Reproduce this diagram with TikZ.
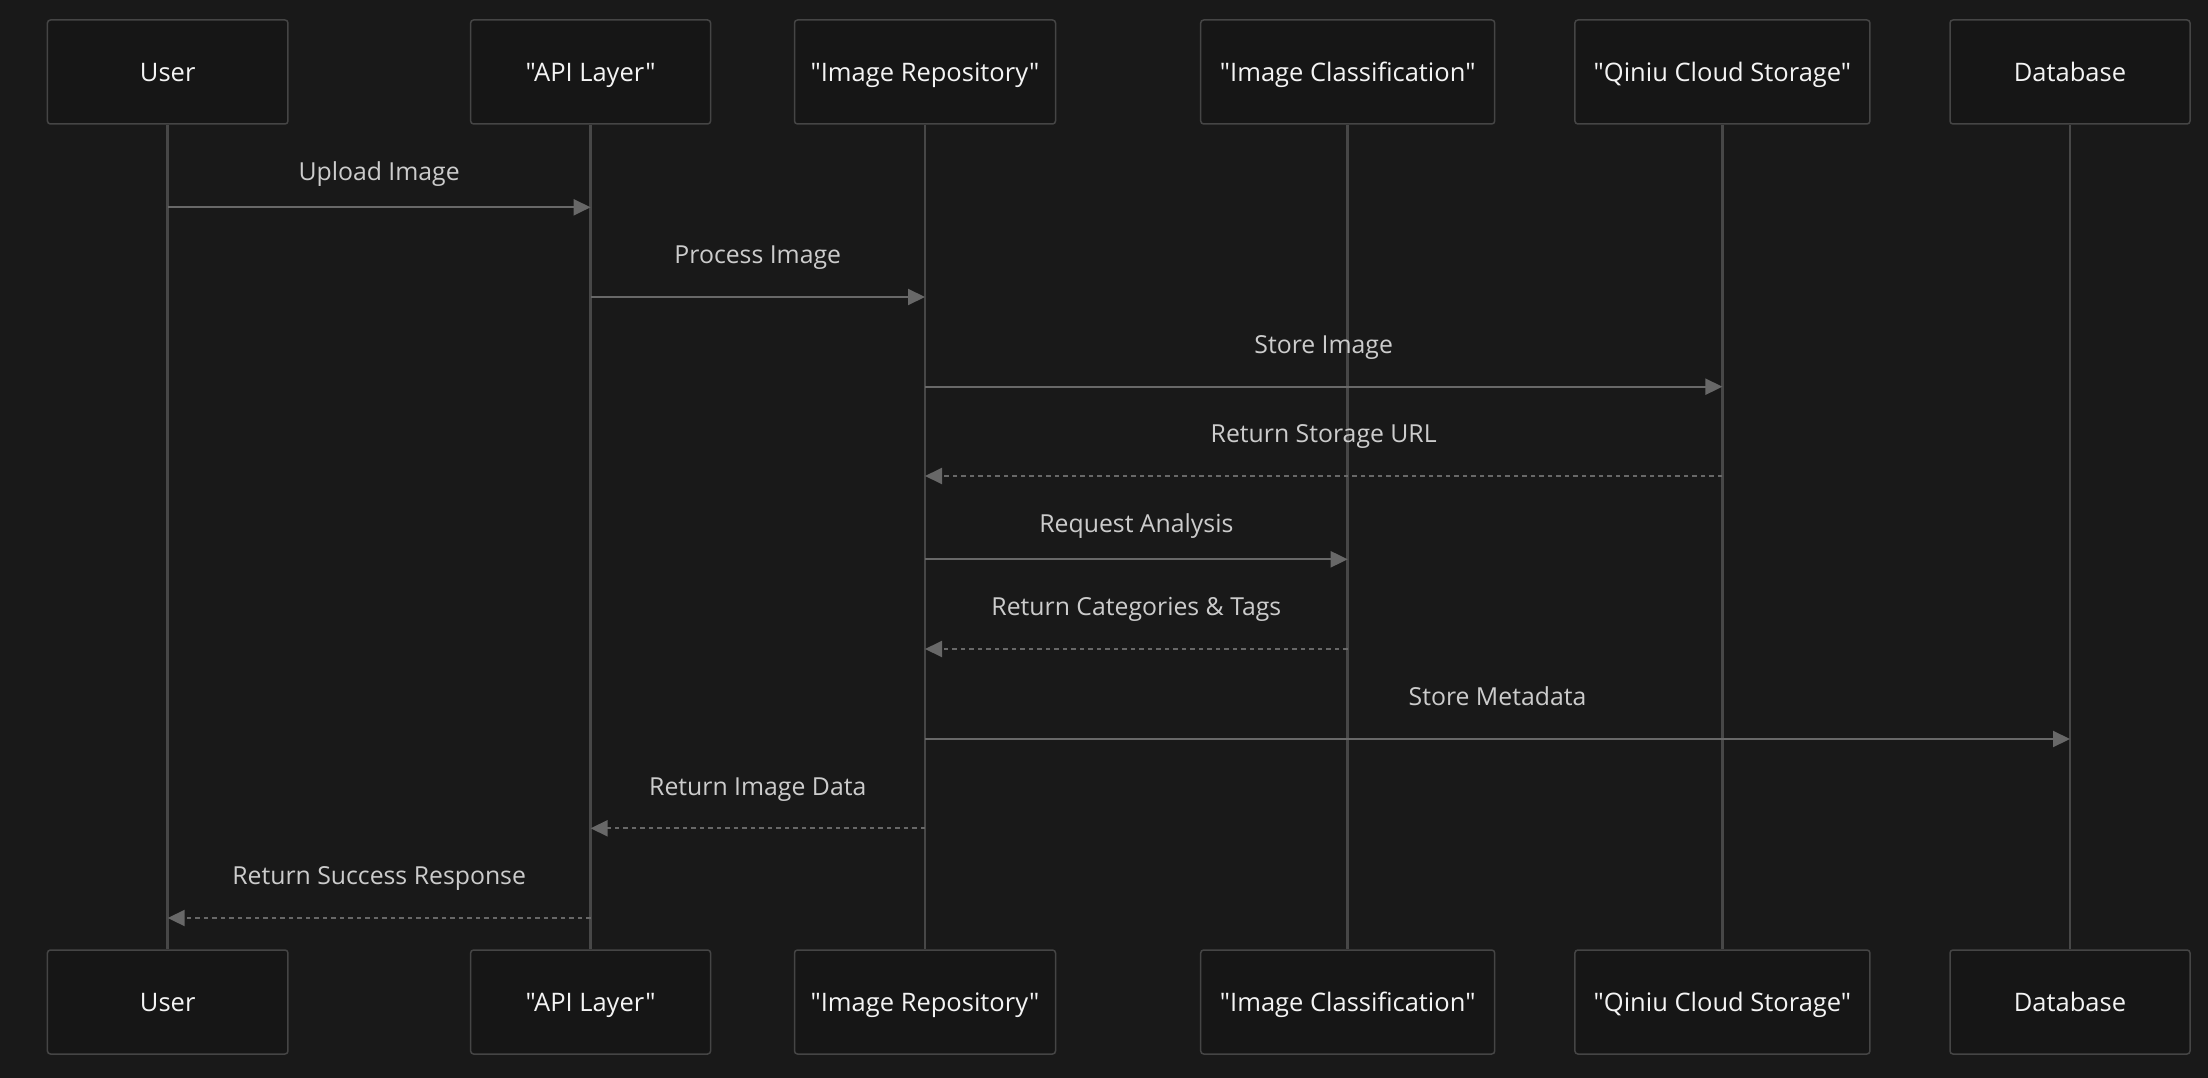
\documentclass[tikz,border=0pt]{standalone}
\usepackage{fontspec}
\setmainfont{Open Sans}[Ligatures=TeXOff]
\usetikzlibrary{arrows.meta}
\definecolor{bgc}{HTML}{191919}
\definecolor{boxfill}{HTML}{161616}
\definecolor{boxline}{HTML}{454545}
\definecolor{lifec}{HTML}{474747}
\definecolor{msgc}{HTML}{686868}
\definecolor{msgtext}{HTML}{CCCCCC}
\definecolor{actortext}{HTML}{F4F4F4}
\tikzset{
  actor/.style={draw=boxline, line width=1.5pt, fill=boxfill, rounded corners=3pt,
    minimum height=104pt, inner sep=0pt, text=actortext,
    font=\fontsize{25.5}{30}\selectfont, text height=19.5pt, text depth=0pt},
  lifeline/.style={draw=lifec, line width=2.5pt},
  msg/.style={draw=msgc, line width=2pt, -{Triangle[length=17pt,width=16pt]}},
  ret/.style={msg, dash pattern=on 4.5pt off 4pt},
  lbl/.style={text=msgtext, font=\fontsize{24.8}{29}\selectfont, inner sep=0pt, anchor=base},
}
\begin{document}
\begin{tikzpicture}[x=1pt,y=-1pt]
\fill[bgc] (0,0) rectangle (2208,1078);
\useasboundingbox (0,0) rectangle (2208,1078);
% top actors
\node[actor, minimum width=240.5pt] (uT) at (167.7,72) {User};
\node[actor, minimum width=240pt] (aT) at (590.6,72) {"API Layer"};
\node[actor, minimum width=261pt] (rT) at (925,72) {"Image Repository"};
\node[actor, minimum width=294pt] (cT) at (1347.7,72) {"Image Classification"};
\node[actor, minimum width=295pt] (qT) at (1722.4,72) {"Qiniu Cloud Storage"};
\node[actor, minimum width=240pt] (dT) at (2070,72) {Database};
% bottom actors
\node[actor, minimum width=240.5pt] (uB) at (167.7,1002) {User};
\node[actor, minimum width=240pt] (aB) at (590.6,1002) {"API Layer"};
\node[actor, minimum width=261pt] (rB) at (925,1002) {"Image Repository"};
\node[actor, minimum width=294pt] (cB) at (1347.7,1002) {"Image Classification"};
\node[actor, minimum width=295pt] (qB) at (1722.4,1002) {"Qiniu Cloud Storage"};
\node[actor, minimum width=240pt] (dB) at (2070,1002) {Database};
% lifelines
\draw[lifeline] (uT.south) -- (uB.north);
\draw[lifeline] (aT.south) -- (aB.north);
\draw[lifeline] (rT.south) -- (rB.north);
\draw[lifeline] (cT.south) -- (cB.north);
\draw[lifeline] (qT.south) -- (qB.north);
\draw[lifeline] (dT.south) -- (dB.north);
% message rows
\coordinate (y1) at (0,207.3);
\coordinate (y2) at (0,297);
\coordinate (y3) at (0,386.7);
\coordinate (y4) at (0,476);
\coordinate (y5) at (0,559.3);
\coordinate (y6) at (0,649);
\coordinate (y7) at (0,739);
\coordinate (y8) at (0,828.3);
\coordinate (y9) at (0,918);
\draw[msg] (uT |- y1) -- node[lbl, yshift=26.6pt] {Upload Image} (aT |- y1);
\draw[msg] (aT |- y2) -- node[lbl, yshift=33.3pt] {Process Image} (rT |- y2);
\draw[msg] (rT |- y3) -- node[lbl, yshift=33.3pt] {Store Image} (qT |- y3);
\draw[ret] (qT |- y4) -- node[lbl, yshift=33.3pt] {Return Storage URL} (rT |- y4);
\draw[msg] (rT |- y5) -- node[lbl, yshift=26.6pt] {Request Analysis} (cT |- y5);
\draw[ret] (cT |- y6) -- node[lbl, yshift=33.3pt] {Return Categories \& Tags} (rT |- y6);
\draw[msg] (rT |- y7) -- node[lbl, yshift=33.3pt] {Store Metadata} (dT |- y7);
\draw[ret] (rT |- y8) -- node[lbl, yshift=33.3pt] {Return Image Data} (aT |- y8);
\draw[ret] (aT |- y9) -- node[lbl, yshift=33.3pt] {Return Success Response} (uT |- y9);
\end{tikzpicture}
\end{document}
